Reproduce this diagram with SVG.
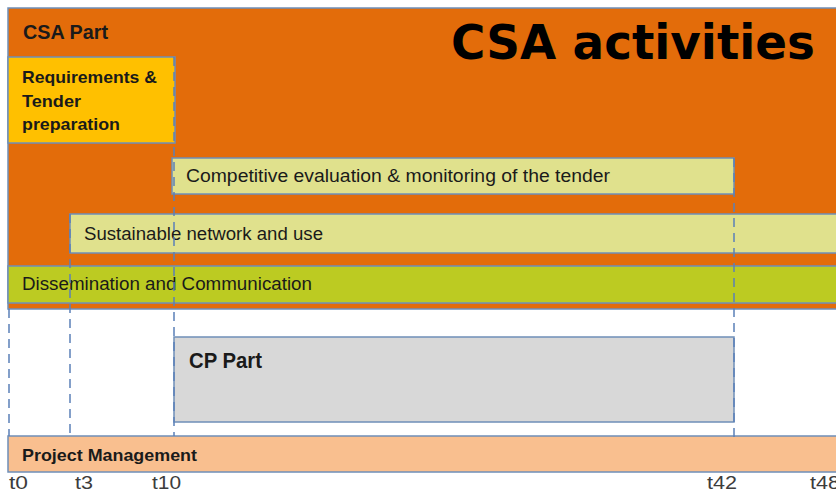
<svg xmlns="http://www.w3.org/2000/svg" width="836" height="493" viewBox="0 0 836 493">
<style>
.box{stroke:#6f8fb8;stroke-width:1.5}
.t{font-family:"Liberation Sans",Arial,sans-serif;fill:#1a1a1a;font-size:17.5px}
.b{font-weight:bold;font-size:17px}
.dash{stroke:#5b80b8;stroke-width:1.5;stroke-dasharray:9,6;fill:none}
.lab{font-family:"Liberation Sans",Arial,sans-serif;fill:#3c3c3c;font-size:19px}
</style>
<rect width="836" height="493" fill="#ffffff"/>
<g id="csa-part">
<rect x="8" y="8" width="830" height="301" fill="#e36c0a" class="box"/>
<text class="t b" x="23" y="39" style="font-size:21px" textLength="85" lengthAdjust="spacingAndGlyphs">CSA Part</text>
<text x="451" y="59" font-family="DejaVu Sans,Verdana,sans-serif" font-weight="bold" font-size="48" fill="#000" textLength="364" lengthAdjust="spacingAndGlyphs">CSA activities</text>
</g>
<g id="requirements">
<rect x="8" y="57" width="167" height="86" fill="#ffc000" class="box"/>
<text class="t b" x="22" y="83" textLength="135" lengthAdjust="spacingAndGlyphs">Requirements &amp;</text>
<text class="t b" x="22" y="107" textLength="59" lengthAdjust="spacingAndGlyphs">Tender</text>
<text class="t b" x="22" y="130" textLength="98" lengthAdjust="spacingAndGlyphs">preparation</text>
</g>
<g id="competitive">
<rect x="172" y="158" width="562" height="36" fill="#e0e18d" class="box"/>
<text class="t" x="186" y="182" textLength="424" lengthAdjust="spacingAndGlyphs">Competitive evaluation &amp; monitoring of the tender</text>
</g>
<g id="sustainable">
<rect x="70" y="214" width="770" height="39" fill="#e0e18d" class="box"/>
<text class="t" x="84" y="240" textLength="239" lengthAdjust="spacingAndGlyphs">Sustainable network and use</text>
</g>
<g id="dissemination">
<rect x="8" y="266" width="832" height="37" fill="#bccb22" class="box"/>
<text class="t" x="22" y="290" textLength="290" lengthAdjust="spacingAndGlyphs">Dissemination and Communication</text>
</g>
<g id="cp-part">
<rect x="174" y="337" width="560" height="85" fill="#d8d8d8" class="box"/>
<text class="t b" x="189" y="368" style="font-size:22px" textLength="73" lengthAdjust="spacingAndGlyphs">CP Part</text>
</g>
<g id="project-management">
<rect x="8" y="436" width="832" height="36" fill="#f9bf8f" class="box"/>
<text class="t b" x="22" y="461" textLength="175" lengthAdjust="spacingAndGlyphs">Project Management</text>
</g>
<g id="connectors">
<line class="dash" x1="9" y1="309" x2="9" y2="436"/>
<line class="dash" x1="70" y1="214" x2="70" y2="436"/>
<line class="dash" x1="174" y1="57" x2="174" y2="436"/>
<line class="dash" x1="734" y1="158" x2="734" y2="440"/>
</g>
<g id="timeline">
<text class="lab" x="9" y="489" textLength="19" lengthAdjust="spacingAndGlyphs">t0</text>
<text class="lab" x="75" y="489" textLength="18" lengthAdjust="spacingAndGlyphs">t3</text>
<text class="lab" x="152" y="489" textLength="29" lengthAdjust="spacingAndGlyphs">t10</text>
<text class="lab" x="707" y="489" textLength="30" lengthAdjust="spacingAndGlyphs">t42</text>
<text class="lab" x="810" y="489" textLength="30" lengthAdjust="spacingAndGlyphs">t48</text>
</g>
</svg>
